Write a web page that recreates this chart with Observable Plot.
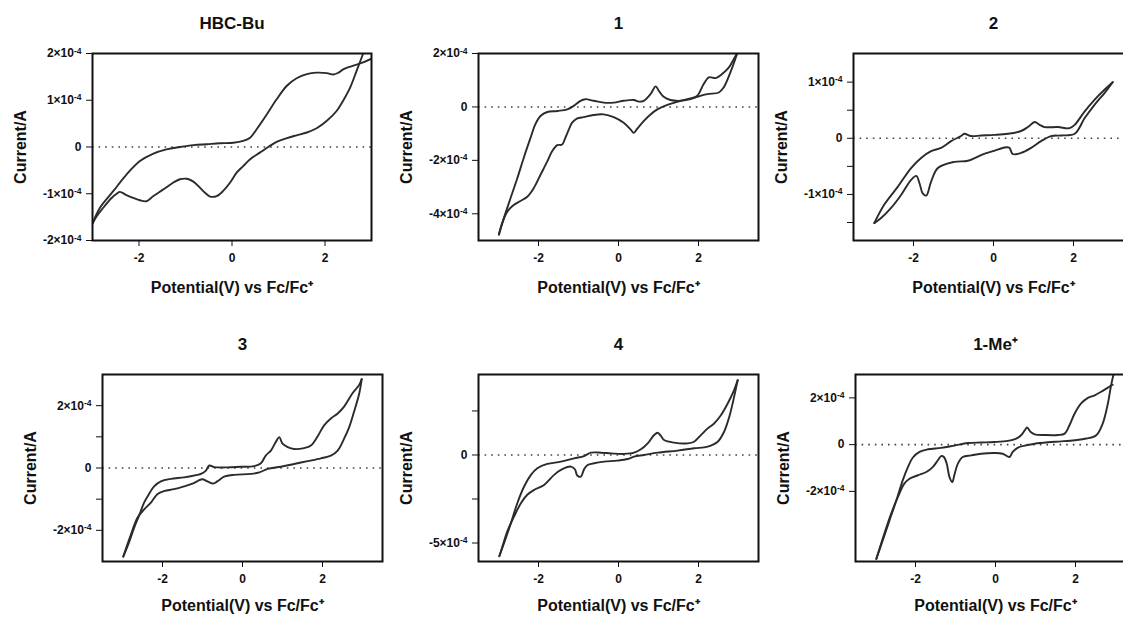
<!DOCTYPE html>
<html><head><meta charset="utf-8">
<script src="https://cdn.jsdelivr.net/npm/d3@7"></script>
<script src="https://cdn.jsdelivr.net/npm/@observablehq/plot@0.6"></script>
<style>
html,body{margin:0;padding:0;background:#fff;}
#chart{position:relative;width:1123px;height:618px;overflow:hidden;background:#fff;}
#chart svg{position:absolute;overflow:visible;max-width:none;background:transparent;}
</style></head><body><div id="chart"></div>
<script>
// ---------- data (potential V, current in units of 1e-4 A) ----------
const titles = ["HBC-Bu", "1", "2", "3", "4", "1-Me\u207A"];
const xLabel = "Potential(V) vs Fc/Fc\u207A";
const yLabel = "Current/A";
const xTicks = [-2, 0, 2];

const hbcBuFwd = [[-3.00,-1.64],[-2.84,-1.30],[-2.55,-0.94],[-2.27,-0.59],[-1.98,-0.30],[-1.69,-0.14],[-1.41,-0.05],[-1.12,0.00],[-0.83,0.04],[-0.54,0.06],[-0.26,0.08],[0.03,0.09],[0.24,0.13],[0.39,0.20],[0.53,0.38],[0.75,0.70],[0.96,1.02],[1.18,1.31],[1.39,1.47],[1.61,1.56],[1.82,1.59],[2.04,1.58],[2.18,1.55],[2.29,1.59],[2.39,1.66],[2.61,1.74],[2.82,1.81],[3.02,1.90]];
const hbcBuRev = [[2.90,2.25],[2.82,2.00],[2.68,1.63],[2.54,1.27],[2.39,0.99],[2.25,0.77],[2.04,0.56],[1.82,0.40],[1.61,0.31],[1.39,0.25],[1.18,0.19],[0.96,0.11],[0.78,0.00],[0.60,-0.12],[0.39,-0.26],[0.24,-0.41],[0.10,-0.55],[-0.04,-0.76],[-0.19,-0.94],[-0.33,-1.05],[-0.47,-1.06],[-0.58,-0.98],[-0.69,-0.87],[-0.83,-0.74],[-0.97,-0.68],[-1.12,-0.69],[-1.26,-0.76],[-1.48,-0.91],[-1.69,-1.05],[-1.84,-1.16],[-1.98,-1.14],[-2.12,-1.09],[-2.27,-1.03],[-2.41,-0.96],[-2.48,-1.00],[-2.59,-1.09],[-2.77,-1.30],[-2.91,-1.48],[-3.00,-1.64]];

const c1Fwd = [[-2.99,-4.78],[-2.87,-4.18],[-2.70,-3.42],[-2.53,-2.67],[-2.37,-1.91],[-2.20,-1.16],[-2.08,-0.65],[-1.95,-0.34],[-1.78,-0.19],[-1.53,-0.15],[-1.28,-0.09],[-1.12,0.04],[-0.95,0.23],[-0.83,0.29],[-0.62,0.23],[-0.37,0.16],[-0.12,0.16],[0.13,0.23],[0.38,0.26],[0.51,0.20],[0.63,0.23],[0.80,0.48],[0.93,0.77],[1.01,0.60],[1.13,0.38],[1.30,0.26],[1.55,0.23],[1.80,0.29],[1.97,0.42],[2.13,0.86],[2.26,1.11],[2.43,1.08],[2.59,1.23],[2.76,1.48],[2.93,1.92],[2.97,2.01]];
const c1Rev = [[2.97,2.01],[2.80,1.30],[2.63,0.73],[2.51,0.54],[2.22,0.48],[1.97,0.38],[1.72,0.29],[1.47,0.19],[1.22,0.08],[0.97,-0.09],[0.80,-0.28],[0.63,-0.53],[0.47,-0.81],[0.38,-0.97],[0.30,-0.84],[0.13,-0.59],[-0.12,-0.38],[-0.37,-0.28],[-0.62,-0.30],[-0.87,-0.38],[-1.03,-0.43],[-1.16,-0.59],[-1.24,-0.84],[-1.33,-1.16],[-1.41,-1.41],[-1.53,-1.43],[-1.66,-1.66],[-1.78,-2.04],[-1.95,-2.54],[-2.12,-3.04],[-2.28,-3.36],[-2.45,-3.52],[-2.62,-3.67],[-2.78,-3.92],[-2.91,-4.36],[-2.99,-4.78]];

const c2Fwd = [[-2.98,-1.51],[-2.73,-1.18],[-2.39,-0.86],[-2.06,-0.53],[-1.81,-0.35],[-1.56,-0.23],[-1.31,-0.17],[-1.06,-0.05],[-0.81,0.04],[-0.73,0.08],[-0.56,0.04],[-0.31,0.05],[0.03,0.06],[0.36,0.08],[0.69,0.13],[0.86,0.20],[1.03,0.29],[1.15,0.24],[1.28,0.20],[1.61,0.20],[1.90,0.18],[2.03,0.24],[2.28,0.48],[2.53,0.69],[2.78,0.87],[2.98,1.00]];
const c2Rev = [[2.98,1.00],[2.78,0.81],[2.53,0.60],[2.28,0.36],[2.03,0.08],[1.69,0.05],[1.44,0.04],[1.19,-0.05],[0.94,-0.17],[0.69,-0.26],[0.48,-0.28],[0.40,-0.17],[0.32,-0.16],[0.03,-0.22],[-0.31,-0.30],[-0.64,-0.40],[-0.98,-0.42],[-1.39,-0.53],[-1.56,-0.77],[-1.68,-1.02],[-1.77,-0.98],[-1.85,-0.80],[-1.93,-0.67],[-2.06,-0.74],[-2.31,-1.01],[-2.56,-1.24],[-2.81,-1.42],[-2.98,-1.51]];

const c3Fwd = [[-2.98,-2.84],[-2.83,-2.36],[-2.71,-1.92],[-2.58,-1.51],[-2.46,-1.11],[-2.33,-0.82],[-2.21,-0.59],[-2.04,-0.43],[-1.79,-0.35],[-1.46,-0.30],[-1.13,-0.22],[-1.04,-0.19],[-0.92,-0.09],[-0.83,0.08],[-0.71,0.03],[-0.38,0.02],[-0.04,0.04],[0.29,0.06],[0.46,0.15],[0.58,0.40],[0.71,0.56],[0.83,0.83],[0.92,0.99],[1.00,0.78],[1.13,0.67],[1.29,0.61],[1.54,0.64],[1.71,0.72],[1.88,1.02],[2.04,1.37],[2.21,1.59],[2.38,1.75],[2.54,1.97],[2.75,2.40],[2.92,2.67],[2.98,2.85]];
const c3Rev = [[2.98,2.85],[2.92,2.40],[2.79,1.81],[2.67,1.32],[2.54,0.94],[2.38,0.56],[2.21,0.40],[1.96,0.31],[1.63,0.22],[1.29,0.13],[0.96,0.04],[0.63,-0.03],[0.42,-0.14],[0.21,-0.19],[-0.21,-0.22],[-0.46,-0.28],[-0.63,-0.43],[-0.73,-0.50],[-0.88,-0.43],[-1.00,-0.36],[-1.11,-0.41],[-1.25,-0.50],[-1.46,-0.59],[-1.71,-0.68],[-1.96,-0.74],[-2.13,-0.84],[-2.29,-1.11],[-2.46,-1.33],[-2.63,-1.60],[-2.79,-2.14],[-2.98,-2.84]];

const c4Fwd = [[-2.98,-5.75],[-2.86,-5.00],[-2.69,-3.87],[-2.53,-2.74],[-2.36,-1.79],[-2.19,-1.13],[-2.03,-0.75],[-1.78,-0.51],[-1.44,-0.38],[-1.11,-0.19],[-0.86,-0.06],[-0.69,0.13],[-0.44,0.13],[-0.19,0.09],[0.14,0.06],[0.39,0.13],[0.56,0.32],[0.73,0.66],[0.89,1.13],[0.98,1.26],[1.06,1.08],[1.14,0.85],[1.39,0.70],[1.73,0.66],[1.89,0.75],[2.06,1.13],[2.23,1.51],[2.39,1.79],[2.56,2.26],[2.73,2.92],[2.89,3.68],[2.98,4.25]];
const c4Rev = [[2.98,4.25],[2.89,3.30],[2.77,2.17],[2.64,1.32],[2.48,0.75],[2.23,0.47],[1.89,0.38],[1.48,0.25],[0.98,0.13],[0.64,0.00],[0.39,-0.09],[0.23,-0.23],[-0.03,-0.32],[-0.36,-0.38],[-0.61,-0.47],[-0.78,-0.58],[-0.86,-0.81],[-0.94,-1.23],[-1.03,-1.17],[-1.09,-0.81],[-1.19,-0.66],[-1.44,-0.85],[-1.61,-1.13],[-1.86,-1.70],[-2.11,-1.98],[-2.28,-2.26],[-2.44,-2.74],[-2.61,-3.49],[-2.78,-4.34],[-2.90,-5.19],[-2.98,-5.75]];

const me1Fwd = [[-2.98,-4.89],[-2.82,-4.10],[-2.65,-3.24],[-2.48,-2.39],[-2.32,-1.53],[-2.19,-0.96],[-2.07,-0.56],[-1.90,-0.31],[-1.69,-0.20],[-1.36,-0.14],[-1.03,-0.04],[-0.69,0.07],[-0.36,0.09],[-0.03,0.11],[0.31,0.16],[0.52,0.26],[0.64,0.40],[0.73,0.61],[0.79,0.73],[0.88,0.54],[0.98,0.44],[1.23,0.41],[1.56,0.41],[1.73,0.47],[1.85,0.83],[1.98,1.33],[2.14,1.76],[2.31,2.00],[2.48,2.11],[2.64,2.26],[2.81,2.44],[2.93,2.56]];
const me1Rev = [[2.98,3.11],[2.96,3.04],[2.89,2.54],[2.81,1.76],[2.68,0.90],[2.52,0.40],[2.27,0.26],[1.98,0.19],[1.64,0.14],[1.31,0.10],[0.98,0.04],[0.73,-0.04],[0.56,-0.13],[0.43,-0.31],[0.35,-0.53],[0.18,-0.39],[-0.03,-0.36],[-0.36,-0.39],[-0.61,-0.46],[-0.82,-0.53],[-0.94,-0.81],[-1.03,-1.31],[-1.08,-1.60],[-1.15,-1.39],[-1.22,-0.81],[-1.29,-0.53],[-1.36,-0.49],[-1.44,-0.67],[-1.57,-0.96],[-1.73,-1.17],[-1.94,-1.31],[-2.15,-1.46],[-2.28,-1.67],[-2.44,-2.24],[-2.61,-2.96],[-2.78,-3.81],[-2.98,-4.89]];

const yTicksHbc = [-2, -1, 0, 1, 2];
const yLabelsHbc = ["-2\u00D710-4", "-1\u00D710-4", "0", "1\u00D710-4", "2\u00D710-4"];
const yTicks1 = [-4, -2, 0, 2];
const yLabels1 = ["-4\u00D710-4", "-2\u00D710-4", "0", "2\u00D710-4"];
const yTicks2 = [-1.5, -1, -0.5, 0, 0.5, 1];
const yLabels2 = ["", "-1\u00D710-4", "", "0", "", "1\u00D710-4"];
const yTicks3 = [-2, -1, 0, 1, 2];
const yLabels3 = ["-2\u00D710-4", "", "0", "", "2\u00D710-4"];
const yTicks4 = [-5, -2.5, 0, 2.5];
const yLabels4 = ["-5\u00D710-4", "", "0", ""];
const yTicksMe = [-2, 0, 2];
const yLabelsMe = ["-2\u00D710-4", "0", "2\u00D710-4"];

// ---------- layout ----------
const FONT = "'Liberation Sans', Arial, Helvetica, sans-serif";
const ML = 100, MT = 50, MR = 12, MB = 60, FH = 187;
const panels = [
  {title: titles[0], fwd: hbcBuFwd, rev: hbcBuRev, xd: [-3, 3], yd: [-2, 2], yt: yTicksHbc, yl: yLabelsHbc, left: 92, top: 52.5, fw: 279, xlab: 47},
  {title: titles[1], fwd: c1Fwd, rev: c1Rev, xd: [-3.5, 3.5], yd: [-5, 2], yt: yTicks1, yl: yLabels1, left: 478, top: 52.5, fw: 280, xlab: 47},
  {title: titles[2], fwd: c2Fwd, rev: c2Rev, xd: [-3.5, 3.5], yd: [-1.82, 1.51], yt: yTicks2, yl: yLabels2, left: 852.7, top: 52.5, fw: 280, xlab: 47},
  {title: titles[3], fwd: c3Fwd, rev: c3Rev, xd: [-3.5, 3.5], yd: [-3, 3], yt: yTicks3, yl: yLabels3, left: 101.7, top: 374, fw: 280, xlab: 44},
  {title: titles[4], fwd: c4Fwd, rev: c4Rev, xd: [-3.5, 3.5], yd: [-6.05, 4.57], yt: yTicks4, yl: yLabels4, left: 478.3, top: 374, fw: 280, xlab: 44},
  {title: titles[5], fwd: me1Fwd, rev: me1Rev, xd: [-3.5, 3.5], yd: [-5, 3], yt: yTicksMe, yl: yLabelsMe, left: 855, top: 374, fw: 280, xlab: 44}
];

const chart = document.getElementById("chart");
for (const p of panels) {
  const labelMap = new Map(p.yt.map((t, i) => [t, p.yl[i]]));
  const lineOpts = {x: d => d[0], y: d => d[1], curve: "catmull-rom", stroke: "#2b2b2b", strokeWidth: 1.9, clip: true};
  const textOpts = {text: d => d, fontSize: 16, fontWeight: "bold", fill: "#111", textAnchor: "middle", lineAnchor: "middle"};
  const svg = Plot.plot({
    width: ML + p.fw + MR,
    height: MT + FH + MB,
    marginLeft: ML, marginRight: MR, marginTop: MT, marginBottom: MB,
    style: {fontFamily: FONT, fontSize: "12px", fontWeight: "bold", color: "#111", background: "transparent",
            left: (p.left - ML) + "px", top: (p.top - MT) + "px"},
    x: {domain: p.xd, ticks: xTicks, tickSize: 6, tickPadding: 7, tickFormat: d => String(d), label: null},
    y: {domain: p.yd, ticks: p.yt, tickSize: 6, tickPadding: 5, tickFormat: d => labelMap.get(d) ?? "", label: null},
    marks: [
      Plot.ruleY([0], {stroke: "#444", strokeWidth: 1.6, strokeDasharray: "1.6,5"}),
      Plot.line(p.fwd, lineOpts),
      Plot.line(p.rev, lineOpts),
      Plot.frame({stroke: "#111", strokeWidth: 2}),
      Plot.text([p.title], {...textOpts, frameAnchor: "top", dy: -30, fontSize: 17}),
      Plot.text([yLabel], {...textOpts, frameAnchor: "left", dx: -72, rotate: -90}),
      Plot.text([xLabel], {...textOpts, frameAnchor: "bottom", dy: p.xlab})
    ]
  });
  // render the exponent of "a×10-4" tick labels as a real superscript
  d3.select(svg).selectAll("text").each(function () {
    const t = this.textContent;
    const m = /^(-?\d+\u00D710)(-\d+)$/.exec(t);
    if (!m) return;
    const sel = d3.select(this);
    sel.text(null);
    sel.append("tspan").text(m[1]);
    sel.append("tspan").attr("dy", "-0.45em").attr("font-size", "8.5px").text(m[2]);
  });
  chart.appendChild(svg);
}
</script></body></html>
